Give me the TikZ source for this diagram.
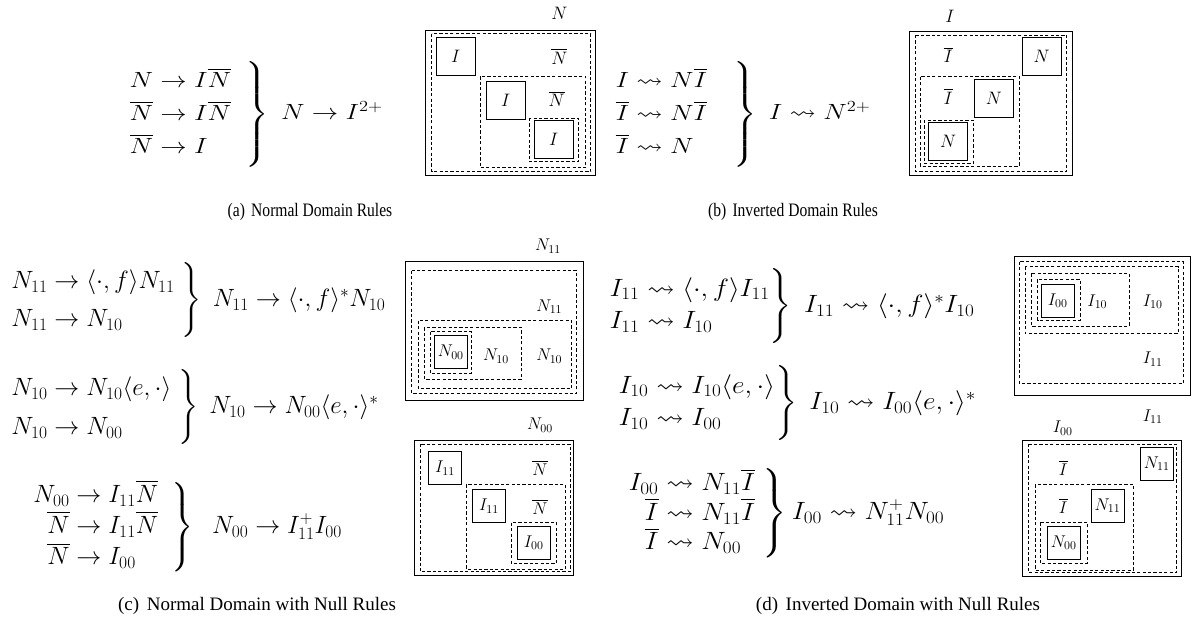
\RequirePackage{fix-cm}
\documentclass[tikz,border=0pt]{standalone}
\usepackage{amsmath,amssymb}
\usepackage[no-math]{fontspec}
\setmainfont{Liberation Serif}

\newcommand{\rulesize}{\fontsize{25}{30}\selectfont}
\newcommand{\toprulesize}{\fontsize{22}{26.4}\selectfont}
\newcommand{\capsize}{\fontsize{19}{23}\selectfont}
\newcommand{\labsize}{\fontsize{17}{20}\selectfont}
\newcommand{\toplabsize}{\fontsize{18}{21}\selectfont}

\tikzset{
  frame/.style={line width=0.9pt},
  region/.style={line width=0.8pt, dash pattern=on 3.2pt off 2.2pt},
  rules/.style={anchor=west, inner sep=0pt, font=\rulesize},
  toprules/.style={rules, font=\toprulesize, xscale=1.2},
  caption/.style={inner sep=0pt, font=\capsize},
  lab/.style={inner sep=0pt, font=\labsize},
  toplab/.style={inner sep=0pt, font=\toplabsize},
  term/.style={draw, line width=0.9pt, inner sep=0pt, minimum width=33pt, minimum height=33pt, font=\labsize},
  bigterm/.style={term, minimum width=39pt, minimum height=38pt, font=\toplabsize}
}

\begin{document}
\begin{tikzpicture}[x=1pt, y=-1pt]
  \useasboundingbox (0,0) rectangle (1192,621);

  % (a) normal domain rules
  \node[toprules] (rulesN) at (128,114) {\renewcommand{\arraystretch}{1.25}$\left.\begin{array}{@{}r@{}l@{}}
      N & {}\to I\overline{N}\\
      \overline{N} & {}\to I\overline{N}\\
      \overline{N} & {}\to I
    \end{array}\;\;\right\}\;N\to I^{2+}$};
  \draw[frame] (425.7,30.7) rectangle (595.7,175);
  \draw[region] (431.7,33.7) rectangle (590.7,171.7);
  \draw[region] (480.3,76.3) rectangle (585.7,167.7);
  \draw[region] (529,118) rectangle (578.3,161.7);
  \node[bigterm] (iA) at (455.7,56.3) {$I$};
  \node[bigterm] (iB) at (505.8,100) {$I$};
  \node[bigterm] (iC) at (553.8,139) {$I$};
  \node[toplab] (nbarA) at (559.3,56.7) {$\overline{N}$};
  \node[toplab] (nbarB) at (556.7,99) {$\overline{N}$};
  \node[toplab] (topN) at (559.3,13.3) {$N$};
  \node[caption, xscale=0.82] (capA) at (310,212) {(a)\hspace{0.4em}Normal Domain Rules};

  % (b) inverted domain rules
  \node[toprules] (rulesI) at (614,114) {\renewcommand{\arraystretch}{1.25}$\left.\begin{array}{@{}r@{}l@{}}
      I & {}\rightsquigarrow N\overline{I}\\
      \overline{I} & {}\rightsquigarrow N\overline{I}\\
      \overline{I} & {}\rightsquigarrow N
    \end{array}\quad\right\}\;I\rightsquigarrow N^{2+}$};
  \draw[frame] (909.3,31.7) rectangle (1072.7,175);
  \draw[region] (915.7,35) rectangle (1066.7,171.7);
  \draw[region] (920,76.7) rectangle (1019.3,166);
  \draw[region] (924.3,120) rectangle (973.3,163.3);
  \node[bigterm] (nA) at (1041.7,56.5) {$N$};
  \node[bigterm] (nB) at (993.8,98.3) {$N$};
  \node[bigterm] (nC) at (948.2,141.3) {$N$};
  \node[toplab] (ibarA) at (948.3,55) {$\overline{I}$};
  \node[toplab] (ibarB) at (948.3,96.7) {$\overline{I}$};
  \node[toplab] (topI) at (950,16) {$I$};
  \node[caption, xscale=0.82] (capB) at (793,212) {(b)\hspace{0.4em}Inverted Domain Rules};

  % (c) normal domain with null rules
  \node[rules] (rulesN11) at (10,300) {\renewcommand{\arraystretch}{1.26}$\left.\begin{array}{@{}r@{}l@{}}
      N_{11} & {}\to \langle\cdot,f\rangle N_{11}\\
      N_{11} & {}\to N_{10}
    \end{array}\;\right\}\;N_{11}\to\langle\cdot,f\rangle^{*}N_{10}$};
  \node[rules] (rulesN10) at (10,407) {\renewcommand{\arraystretch}{1.3}$\left.\begin{array}{@{}r@{}l@{}}
      N_{10} & {}\to N_{10}\langle e,\cdot\rangle\\
      N_{10} & {}\to N_{00}
    \end{array}\;\right\}\;N_{10}\to N_{00}\langle e,\cdot\rangle^{*}$};
  \node[rules] (rulesN00) at (32,527) {$\left.\begin{array}{@{}r@{}l@{}}
      N_{00} & {}\to I_{11}\overline{N}\\
      \overline{N} & {}\to I_{11}\overline{N}\\
      \overline{N} & {}\to I_{00}
    \end{array}\;\;\right\}\;\;N_{00}\to I_{11}^{+}I_{00}$};
  \draw[frame] (405.7,261.7) rectangle (583.3,400.7);
  \draw[region] (411.7,270.7) rectangle (576.7,393.3);
  \draw[region] (418.3,320.7) rectangle (571.7,388.3);
  \draw[region] (424.3,327.3) rectangle (521,379.3);
  \draw[region] (430,331.7) rectangle (471.7,373.3);
  \node[term] (n00) at (450.8,352) {$N_{00}$};
  \node[lab] (labN11) at (549.3,306.7) {$N_{11}$};
  \node[lab] (labN10a) at (549.3,356) {$N_{10}$};
  \node[lab] (labN10b) at (496,356) {$N_{10}$};
  \node[lab] (topN11) at (548,246) {$N_{11}$};
  \draw[frame] (414.3,440.7) rectangle (573.3,575);
  \draw[region] (420,444) rectangle (570,571.7);
  \draw[region] (466.7,484.3) rectangle (565,569.3);
  \draw[region] (511,522.7) rectangle (556.7,563.3);
  \node[term] (i11a) at (445,468) {$I_{11}$};
  \node[term] (i11b) at (489,506) {$I_{11}$};
  \node[term] (i00) at (533.7,542.7) {$I_{00}$};
  \node[lab] (nbarC) at (540,468.3) {$\overline{N}$};
  \node[lab] (nbarD) at (540,506.7) {$\overline{N}$};
  \node[lab] (topN00) at (540,425) {$N_{00}$};
  \node[caption] (capC) at (257,606) {(c)\hspace{0.4em}Normal Domain with Null Rules};

  % (d) inverted domain with null rules
  \node[rules, xscale=1.1] (rulesI11) at (608,306) {\renewcommand{\arraystretch}{1.09}$\left.\begin{array}{@{}r@{}l@{}}
      I_{11} & {}\rightsquigarrow \langle\cdot,f\rangle I_{11}\\
      I_{11} & {}\rightsquigarrow I_{10}
    \end{array}\right\}\;I_{11}\rightsquigarrow\langle\cdot,f\rangle^{*}I_{10}$};
  \node[rules, xscale=1.1] (rulesI10) at (617,403) {\renewcommand{\arraystretch}{1.09}$\left.\begin{array}{@{}r@{}l@{}}
      I_{10} & {}\rightsquigarrow I_{10}\langle e,\cdot\rangle\\
      I_{10} & {}\rightsquigarrow I_{00}
    \end{array}\right\}\;I_{10}\rightsquigarrow I_{00}\langle e,\cdot\rangle^{*}$};
  \node[rules, xscale=1.1] (rulesI00) at (627,513) {\renewcommand{\arraystretch}{0.84}$\left.\begin{array}{@{}r@{}l@{}}
      I_{00} & {}\rightsquigarrow N_{11}\overline{I}\\
      \overline{I} & {}\rightsquigarrow N_{11}\overline{I}\\
      \overline{I} & {}\rightsquigarrow N_{00}
    \end{array}\;\right\}I_{00}\rightsquigarrow N_{11}^{+}N_{00}$};
  \draw[frame] (1014,256.7) rectangle (1190,395.7);
  \draw[region] (1019.3,261.7) rectangle (1183.3,383.3);
  \draw[region] (1025,266.7) rectangle (1178.3,333.3);
  \draw[region] (1031,273.3) rectangle (1129,326);
  \draw[region] (1037.7,279.3) rectangle (1080,320);
  \node[term] (i00top) at (1057.7,300.8) {$I_{00}$};
  \node[lab] (labI10a) at (1097.3,301.7) {$I_{10}$};
  \node[lab] (labI10b) at (1152.7,301.7) {$I_{10}$};
  \node[lab] (labI11) at (1152.7,359.3) {$I_{11}$};
  \node[lab] (botI11) at (1152.7,416.7) {$I_{11}$};
  \draw[frame] (1022.3,440.7) rectangle (1181,576);
  \draw[region] (1028.3,444) rectangle (1176.7,572.7);
  \draw[region] (1035,484.3) rectangle (1133.3,570);
  \draw[region] (1040,522.3) rectangle (1087.3,563.3);
  \node[term] (n11a) at (1156.7,463.8) {$N_{11}$};
  \node[term] (n11b) at (1107.5,505.8) {$N_{11}$};
  \node[term] (n00bot) at (1063.7,542.7) {$N_{00}$};
  \node[lab] (ibarC) at (1063.3,468.3) {$\overline{I}$};
  \node[lab] (ibarD) at (1063.3,506) {$\overline{I}$};
  \node[lab] (topI00) at (1062.7,428.3) {$I_{00}$};
  \node[caption] (capD) at (898,606) {(d)\hspace{0.4em}Inverted Domain with Null Rules};
\end{tikzpicture}
\end{document}
